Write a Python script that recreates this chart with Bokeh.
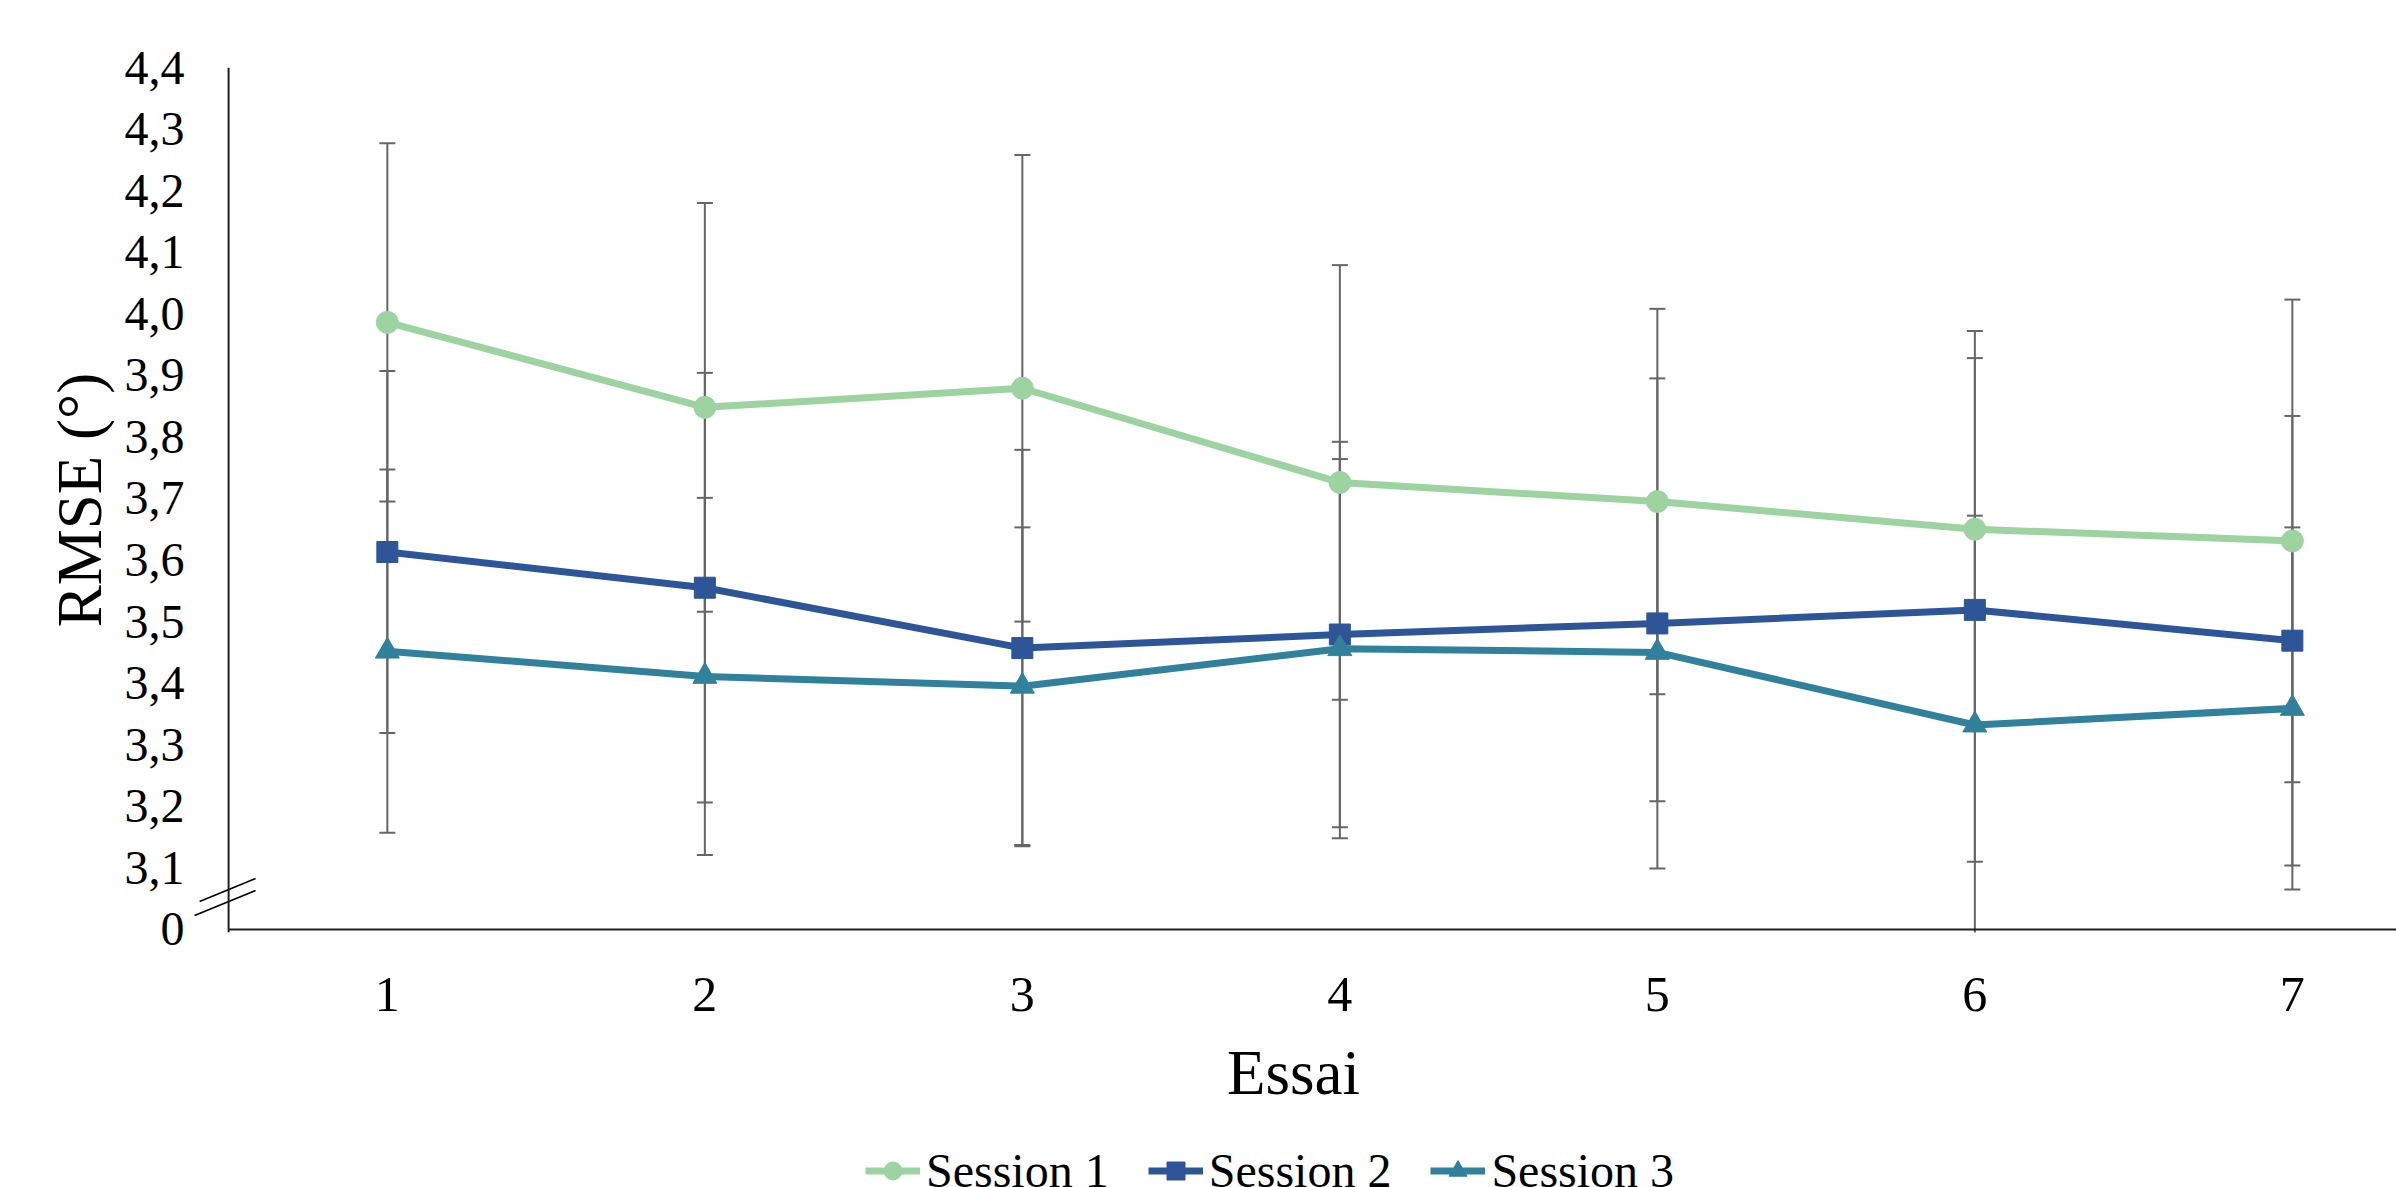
from bokeh.plotting import figure
from bokeh.layouts import column
from bokeh.models import (ColumnDataSource, Whisker, TeeHead, FixedTicker, CustomJSTickFormatter,
                          Legend, LegendItem, Span, Range1d)
from bokeh.embed import file_html
from bokeh.resources import INLINE

# ---------------- data ----------------
essai = [1, 2, 3, 4, 5, 6, 7]
x_tick_labels = ["1", "2", "3", "4", "5", "6", "7"]
y_ticks = [3.0, 3.1, 3.2, 3.3, 3.4, 3.5, 3.6, 3.7, 3.8, 3.9, 4.0, 4.1, 4.2, 4.3, 4.4]
y_tick_labels = ["0", "3,1", "3,2", "3,3", "3,4", "3,5", "3,6", "3,7", "3,8", "3,9",
                 "4,0", "4,1", "4,2", "4,3", "4,4"]
session_names = ["Session 1", "Session 2", "Session 3"]

s1_mean = [3.986, 3.848, 3.879, 3.726, 3.695, 3.650, 3.631]
s1_sd = [0.291, 0.332, 0.379, 0.353, 0.313, 0.322, 0.392]
s2_mean = [3.613, 3.555, 3.457, 3.479, 3.497, 3.519, 3.469]
s2_sd = [0.294, 0.349, 0.322, 0.313, 0.398, 0.409, 0.365]
s3_mean = [3.452, 3.411, 3.395, 3.456, 3.450, 3.332, 3.359]
s3_sd = [0.295, 0.290, 0.258, 0.308, 0.242, 0.340, 0.294]

FONT = "Liberation Serif"
colors = ["#9CD3A1", "#2E5597", "#31809C"]
markers = ["circle", "square", "triangle"]
msizes = [22, 21, 24]
AXIS_COLOR = "#1f1f1f"
ERR_COLOR = "#666666"

# value axis is broken: its origin (0) is drawn where 3,0 would be
y_origin = 3.0
x_first = 0.5

W = 2396
H_MAIN = 1147
H_LEG = 40

p = figure(width=W, height=H_MAIN, output_backend="svg", toolbar_location=None,
           x_range=Range1d(0.380, 7.328), y_range=Range1d(2.995, 4.4),
           min_border_left=190, min_border_right=0, min_border_top=67,
           min_border_bottom=H_MAIN - 932)
p.outline_line_color = None
p.xgrid.grid_line_color = None
p.ygrid.grid_line_color = None
p.background_fill_color = "white"
p.border_fill_color = "white"

# axes (tick labels and titles); axis lines are drawn below at the break origin
p.xaxis.ticker = FixedTicker(ticks=essai)
p.xaxis.major_label_overrides = {k: v for k, v in zip(essai, x_tick_labels)}
p.yaxis.ticker = FixedTicker(ticks=y_ticks)
p.yaxis.formatter = CustomJSTickFormatter(args=dict(yt=y_ticks, yl=y_tick_labels), code="""
let best = 0, d = Infinity;
for (let i = 0; i < yt.length; i++) { const e = Math.abs(yt[i] - tick); if (e < d) { d = e; best = i; } }
return yl[best];
""")
for ax in (p.xaxis[0], p.yaxis[0]):
    ax.major_tick_line_color = None
    ax.minor_tick_line_color = None
    ax.major_tick_out = 0
    ax.major_tick_in = 0
    ax.minor_tick_out = 0
    ax.axis_line_color = None
    ax.major_label_text_font = FONT
    ax.major_label_text_color = "black"
    ax.axis_label_text_font = FONT
    ax.axis_label_text_font_style = "normal"
    ax.axis_label_text_color = "black"
    ax.axis_label_text_font_size = "63px"

p.xaxis.major_label_text_font_size = "50px"
p.yaxis.major_label_text_font_size = "48px"
p.xaxis.major_label_standoff = 45
p.yaxis.major_label_standoff = 6
p.xaxis.axis_label = "Essai"
p.yaxis.axis_label = "RMSE (°)"
p.xaxis.axis_label_standoff = 24
p.yaxis.axis_label_standoff = 7

# axis lines
p.add_layout(Span(location=x_first, dimension="height", line_color=AXIS_COLOR, line_width=2))
p.segment(x0=[x_first], y0=[y_origin], x1=[p.x_range.end], y1=[y_origin],
          line_color=AXIS_COLOR, line_width=2)
# axis break marks
p.segment(x0=[0.4087, 0.3929], y0=[3.0455, 3.0227], x1=[0.585, 0.585], y1=[3.0828, 3.0633],
          line_color="black", line_width=1.6)

means = [s1_mean, s2_mean, s3_mean]
sds = [s1_sd, s2_sd, s3_sd]
sources = []
for name, m, s, c, mk, ms in zip(session_names, means, sds, colors, markers, msizes):
    src = ColumnDataSource(dict(x=essai, y=m,
                                upper=[a + b for a, b in zip(m, s)],
                                lower=[a - b for a, b in zip(m, s)]))
    sources.append(src)
    w = Whisker(base="x", upper="upper", lower="lower", source=src, dimension="height",
                line_color=ERR_COLOR, line_width=2, level="underlay",
                upper_head=TeeHead(size=16, line_color=ERR_COLOR, line_width=2),
                lower_head=TeeHead(size=16, line_color=ERR_COLOR, line_width=2))
    p.add_layout(w)
    p.line("x", "y", source=src, line_color=c, line_width=7)
    p.scatter("x", "y", source=src, marker=mk, size=ms, fill_color=c, line_color=c)

# ---------------- legend strip below the chart ----------------
p2 = figure(width=W, height=H_LEG, output_backend="svg", toolbar_location=None,
            x_axis_type=None, y_axis_type=None, x_range=Range1d(0, 1), y_range=Range1d(0, 1),
            min_border_left=0, min_border_right=0, min_border_top=0, min_border_bottom=0)
p2.outline_line_color = None
p2.xgrid.grid_line_color = None
p2.ygrid.grid_line_color = None
p2.background_fill_color = "white"
p2.border_fill_color = "white"
items = []
for name, src, c, mk, ms in zip(session_names, sources, colors, markers, msizes):
    # same series, outside this strip's ranges: only their legend glyphs show
    lr = p2.line("x", "y", source=src, line_color=c, line_width=7)
    sr = p2.scatter("x", "y", source=src, marker=mk, size=ms, fill_color=c, line_color=c)
    items.append(LegendItem(label=name, renderers=[lr, sr]))
legend = Legend(items=items, orientation="horizontal", location=(675, -11),
                glyph_width=55, glyph_height=45, label_standoff=6, spacing=39,
                padding=0, margin=0, border_line_color=None, background_fill_alpha=0,
                label_text_font=FONT, label_text_font_size="48px", label_text_color="black")
p2.add_layout(legend, "center")

layout = column(p, p2, spacing=0)
open("out.html", "w").write(file_html(layout, INLINE))
